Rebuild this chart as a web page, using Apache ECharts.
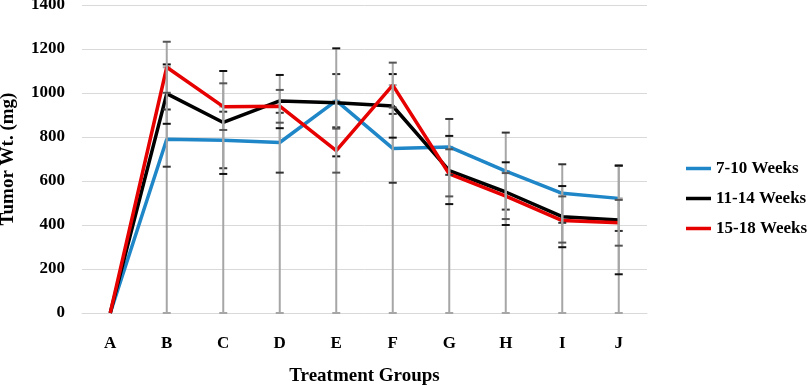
<!DOCTYPE html>
<html>
<head>
<meta charset="utf-8">
<script src="https://cdn.jsdelivr.net/npm/echarts@6/dist/echarts.min.js"></script>
<style>
  html,body{margin:0;padding:0;background:#fff;}
  #chart{width:809px;height:385px;}
</style>
</head>
<body>
<div id="chart"></div>
<script>
const groups = ['A','B','C','D','E','F','G','H','I','J'];
const yTicks = [0,200,400,600,800,1000,1200,1400];

const w7_10  = [0, 790, 785, 775, 965, 748, 755, 645, 544, 521];
const w11_14 = [0, 997, 866, 964, 956, 941, 647, 550, 438, 423];
const w15_18 = [0, 1117, 938, 940, 738, 1036, 632, 531, 420, 410];

// error bar ends [low, high], A has none
const err7_10  = [null,[665,925],[658,915],[638,910],[844,1086],[592,905],[628,882],[470,820],[410,676],[373,670]];
const err11_14 = [null,[860,1130],[632,1100],[840,1082],[712,1203],[797,1086],[495,805],[400,685],[299,577],[176,670]];
const err15_18 = [null,[1001,1233],[832,1044],[865,1014],[638,838],[934,1138],[530,744],[427,636],[320,530],[306,514]];

const FONT = 'Liberation Serif';
const qs = (s)=>document.querySelector(s);

function errData(e){ return e.map((p,i)=>p?[i,p[0],p[1]]:null).filter(Boolean); }

function errRender(capColor){
  return function(params, api){
    const x = api.value(0);
    const lo = api.coord([x, api.value(1)]);
    const hi = api.coord([x, api.value(2)]);
    const h = 4;
    return {type:'group', children:[
      {type:'line', shape:{x1:lo[0],y1:lo[1],x2:hi[0],y2:hi[1]}, style:{stroke:'#a6a6a6',lineWidth:2}},
      {type:'line', shape:{x1:lo[0]-h,y1:lo[1],x2:lo[0]+h,y2:lo[1]}, style:{stroke:capColor,lineWidth:2}},
      {type:'line', shape:{x1:hi[0]-h,y1:hi[1],x2:hi[0]+h,y2:hi[1]}, style:{stroke:capColor,lineWidth:2}}
    ]};
  };
}

// drop lines from the highest point of each group down to the axis
const dropData = groups.map((g,i)=>[i, 0, Math.max(w7_10[i], w11_14[i], w15_18[i])]).filter(d=>d[2]>0);

const lineSeries = (name, data, color, z)=>({
  name, type:'line', data, symbol:'none', z,
  lineStyle:{color, width:3.5}, itemStyle:{color}
});

const c = echarts.init(qs('#chart'));
c.setOption({
  animation:false,
  textStyle:{fontFamily:FONT},
  grid:{left:82, right:162, top:5, bottom:72, outerBoundsMode:'none', containLabel:false},
  legend:{
    orient:'vertical', left:686, top:160, padding:0, icon:'rect', itemWidth:25, itemHeight:3.5, itemGap:13,
    data:['7-10 Weeks','11-14 Weeks','15-18 Weeks'],
    textStyle:{fontFamily:FONT, fontWeight:'bold', fontSize:17, color:'#000'}
  },
  xAxis:{
    type:'category', data:groups, boundaryGap:true,
    axisLine:{lineStyle:{color:'#d9d9d9', width:1}}, axisTick:{show:false},
    axisLabel:{fontFamily:FONT, fontWeight:'bold', fontSize:17, color:'#000', margin:22},
    name:'Treatment Groups', nameLocation:'middle', nameGap:54,
    nameTextStyle:{fontFamily:FONT, fontWeight:'bold', fontSize:19, color:'#000'}
  },
  yAxis:{
    type:'value', min:yTicks[0], max:yTicks[yTicks.length-1], interval:200,
    axisLine:{show:false}, axisTick:{show:false},
    splitLine:{lineStyle:{color:'#d9d9d9', width:1}},
    axisLabel:{fontFamily:FONT, fontWeight:'bold', fontSize:17, color:'#000', margin:17, formatter:v=>String(v)},
    name:'Tumor Wt. (mg)', nameLocation:'middle', nameGap:64, nameRotate:90,
    nameTextStyle:{fontFamily:FONT, fontWeight:'bold', fontSize:19, color:'#000'}
  },
  series:[
    {type:'custom', name:'drop', data:dropData, renderItem:errRender('#a6a6a6'), z:1, silent:true},
    lineSeries('7-10 Weeks', w7_10, '#1f86c8', 2),
    lineSeries('11-14 Weeks', w11_14, '#000000', 3),
    lineSeries('15-18 Weeks', w15_18, '#e60000', 4),
    {type:'custom', name:'e1', data:errData(err7_10), renderItem:errRender('#333333'), z:5, silent:true},
    {type:'custom', name:'e2', data:errData(err11_14), renderItem:errRender('#111111'), z:5, silent:true},
    {type:'custom', name:'e3', data:errData(err15_18), renderItem:errRender('#555555'), z:5, silent:true}
  ]
});
</script>
</body>
</html>
